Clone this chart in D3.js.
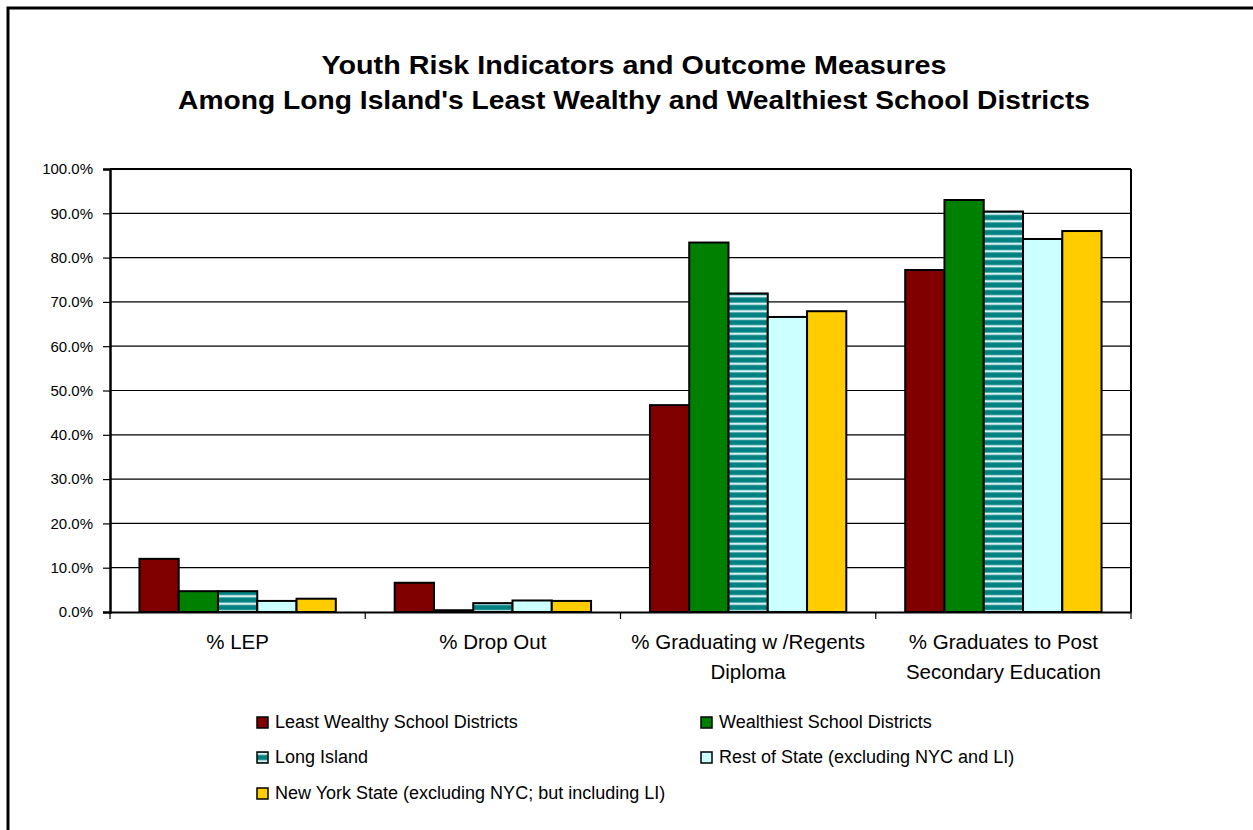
<!DOCTYPE html>
<html>
<head>
<meta charset="utf-8">
<script src="https://cdn.jsdelivr.net/npm/d3@7/dist/d3.min.js"></script>
<style>
  html, body { margin: 0; padding: 0; background: #fff; }
  svg { display: block; }
  text { font-family: "Liberation Sans", Arial, sans-serif; fill: #000; }
</style>
</head>
<body>
<svg id="chart" width="1253" height="830"></svg>
<script>
const categories = [
  ["% LEP"],
  ["% Drop Out"],
  ["% Graduating w /Regents", "Diploma"],
  ["% Graduates to Post", "Secondary Education"]
];
const seriesNames = [
  "Least Wealthy School Districts",
  "Wealthiest School Districts",
  "Long Island",
  "Rest of State (excluding NYC and LI)",
  "New York State (excluding NYC; but including LI)"
];
const leastWealthy = [12.0, 6.6, 46.7, 77.2];
const wealthiest   = [4.7, 0.4, 83.4, 93.0];
const longIsland   = [4.7, 2.0, 71.9, 90.4];
const restOfState  = [2.5, 2.6, 66.6, 84.2];
const newYorkState = [3.0, 2.5, 67.9, 86.0];
const yTicks = [0, 10, 20, 30, 40, 50, 60, 70, 80, 90, 100];
const titleLines = [
  "Youth Risk Indicators and Outcome Measures",
  "Among Long Island's Least Wealthy and Wealthiest School Districts"
];

(function () {
const seriesValues = [leastWealthy, wealthiest, longIsland, restOfState, newYorkState];
const fills = ["#800000", "#008000", "url(#liPattern)", "#CCFFFF", "#FFCC00"];

const svg = d3.select("#chart");

const defs = svg.append("defs");
const pat = defs.append("pattern").attr("id", "liPattern")
  .attr("patternUnits", "userSpaceOnUse").attr("width", 8).attr("height", 7.5);
pat.append("rect").attr("width", 8).attr("height", 7.5).attr("fill", "#008080");
pat.append("rect").attr("y", 2.5).attr("width", 8).attr("height", 2.5).attr("fill", "#a8dcdc");
pat.append("rect").attr("y", 3.2).attr("width", 8).attr("height", 1.1).attr("fill", "#ffffff");

svg.append("rect").attr("x", 8).attr("y", 8).attr("width", 1300).attr("height", 900)
  .attr("fill", "none").attr("stroke", "#000").attr("stroke-width", 3);

const titleWidths = [625, 912];
svg.append("g").selectAll("text").data(titleLines).join("text")
  .attr("x", 634).attr("y", (d, i) => 74 + i * 35)
  .attr("text-anchor", "middle")
  .attr("textLength", (d, i) => titleWidths[i])
  .attr("lengthAdjust", "spacingAndGlyphs")
  .style("font-size", "26px").style("font-weight", "bold")
  .text(d => d);

const pLeft = 110, pRight = 1131, pTop = 169, pBottom = 612;

const x0 = d3.scaleBand().domain(d3.range(categories.length)).range([pLeft, pRight]).paddingInner(0).paddingOuter(0);
const x1 = d3.scaleBand().domain(d3.range(seriesNames.length)).range([0, x0.bandwidth()]).paddingInner(0).paddingOuter(0.75);
const y = d3.scaleLinear().domain([0, 100]).range([pBottom, pTop]);

svg.append("g").selectAll("line").data(yTicks.filter(t => t > 0)).join("line")
  .attr("x1", pLeft).attr("x2", pRight)
  .attr("y1", d => y(d)).attr("y2", d => y(d))
  .attr("stroke", "#000").attr("stroke-width", 1.2);

svg.append("line").attr("x1", pRight).attr("x2", pRight).attr("y1", pTop).attr("y2", pBottom)
  .attr("stroke", "#000").attr("stroke-width", 2);
svg.append("line").attr("x1", pLeft).attr("x2", pRight).attr("y1", pTop).attr("y2", pTop)
  .attr("stroke", "#000").attr("stroke-width", 2);

const barG = svg.append("g");
categories.forEach((c, ci) => {
  seriesValues.forEach((vals, si) => {
    barG.append("rect")
      .attr("x", x0(ci) + x1(si))
      .attr("y", y(vals[ci]))
      .attr("width", x1.bandwidth())
      .attr("height", y(0) - y(vals[ci]))
      .attr("fill", fills[si])
      .attr("stroke", "#000").attr("stroke-width", 2);
  });
});

const yAxis = d3.axisLeft(y).tickValues(yTicks).tickFormat(d => d.toFixed(1) + "%").tickSize(7).tickPadding(10);
const yg = svg.append("g").attr("transform", `translate(${pLeft},0)`).call(yAxis);
yg.select(".domain").attr("stroke", "#000").attr("stroke-width", 2.5);
yg.selectAll(".tick line").attr("stroke", "#000").attr("stroke-width", 1.2);
yg.selectAll(".tick text").style("font-size", "15px").style("font-family", "Liberation Sans, Arial, sans-serif").attr("fill", "#000");

const xAxis = d3.axisBottom(x0).tickSize(0).tickFormat("");
const xg = svg.append("g").attr("transform", `translate(0,${pBottom})`).call(xAxis);
xg.select(".domain").attr("stroke", "#000").attr("stroke-width", 2);
const boundaries = d3.range(categories.length + 1).map(i => i === categories.length ? pRight : x0(i));
svg.append("g").selectAll("line").data(boundaries).join("line")
  .attr("x1", d => d).attr("x2", d => d)
  .attr("y1", pBottom).attr("y2", pBottom + 7)
  .attr("stroke", "#000").attr("stroke-width", 1.2);

categories.forEach((lines, ci) => {
  svg.append("text")
    .attr("text-anchor", "middle")
    .style("font-size", "20.5px")
    .selectAll("tspan").data(lines).join("tspan")
    .attr("x", x0(ci) + x0.bandwidth() / 2)
    .attr("y", (d, i) => 649 + i * 30)
    .text(d => d);
});

const legendPos = [
  [257, 717], [701, 717],
  [257, 752], [701, 752],
  [257, 788]
];
const lg = svg.append("g");
seriesNames.forEach((name, i) => {
  const [lx, ly] = legendPos[i];
  lg.append("rect").attr("x", lx).attr("y", ly).attr("width", 11).attr("height", 11)
    .attr("fill", fills[i]).attr("stroke", "#000").attr("stroke-width", 1.5);
  lg.append("text").attr("x", lx + 18).attr("y", ly + 11)
    .style("font-size", "18px").text(name);
});
})();
</script>
</body>
</html>
